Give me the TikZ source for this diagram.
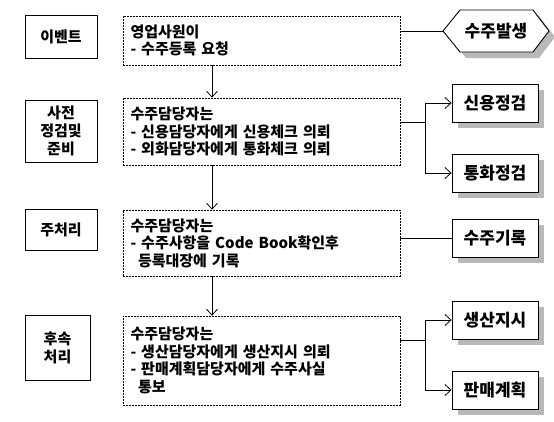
\documentclass[tikz,border=0pt]{standalone}
\usepackage{fontspec}
\setmainfont{Noto Sans CJK KR}
\usetikzlibrary{arrows.meta,shadows,calc}
\begin{document}
\begin{tikzpicture}[x=1pt,y=-1pt,
  leftbox/.style={draw,line width=0.9pt,fill=white,align=center,font=\fontsize{15}{18}\selectfont\bfseries,inner sep=2pt},
  dbox/.style={draw,line width=0.6pt,dash pattern=on 1.6pt off 1.4pt,align=left,text width=262pt,inner xsep=6pt,font=\fontsize{15}{17.5}\selectfont\bfseries,minimum width=277pt},
  rbox/.style={draw,line width=0.9pt,fill=white,minimum width=86pt,minimum height=38pt,font=\fontsize{17}{19}\selectfont\bfseries,
    drop shadow={shadow xshift=6pt,shadow yshift=-6pt,fill=gray!55,opacity=1}},
  arr/.style={-{Straight Barb[length=6pt,width=11pt,line width=0.8pt]},line width=0.8pt},
  ln/.style={line width=0.8pt}]
\useasboundingbox (0,0) rectangle (554,421);
% left boxes
\node[leftbox,minimum width=72pt,minimum height=43pt] (ev) at (61,36.5) {이벤트};
\node[leftbox,minimum width=72pt,minimum height=62pt] (pre) at (61,131) {사전\\정검및\\준비};
\node[leftbox,minimum width=72pt,minimum height=41pt] (main) at (61,229.5) {주처리};
\node[leftbox,minimum width=65pt,minimum height=65pt] (post) at (57.5,347.5) {후속\\처리};
% middle dashed boxes
\node[dbox,minimum height=49pt] (b1) at (261.5,40.5) {영업사원이\\- 수주등록 요청};
\node[dbox,minimum height=67pt] (b2) at (261.5,131.5) {수주담당자는\\- 신용담당자에게 신용체크 의뢰\\- 외화담당자에게 통화체크 의뢰};
\node[dbox,minimum height=66pt] (b3) at (261.5,243) {수주담당자는\\- 수주사항을 Code Book확인후\\\hspace*{0.5em}등록대장에 기록};
\node[dbox,minimum height=89pt] (b4) at (261.5,360.5) {수주담당자는\\- 생산담당자에게 생산지시 의뢰\\- 판매계획담당자에게 수주사실\\\hspace*{0.5em}통보};
% vertical arrows
\coordinate (ax) at (212,0);
\draw[arr] (b1.south -| ax) -- (b2.north -| ax);
\draw[arr] (b2.south -| ax) -- (b3.north -| ax);
\draw[arr] (b3.south -| ax) -- (b4.north -| ax);
% hexagon
\fill[gray!55] (449,37) -- (466,16) -- (539,16) -- (555,37) -- (539,58) -- (466,58) -- cycle;
\draw[line width=0.9pt,fill=white] (443,31) -- (460,10) -- (533,10) -- (549,31) -- (533,52) -- (460,52) -- cycle;
\node[font=\fontsize{17}{19}\selectfont\bfseries] (hx) at (496,31) {수주발생};
\coordinate (hxw) at (443,31);
\draw[ln] (b1.east |- hxw) -- (hxw);
% right boxes
\node[rbox] (sy) at (495,103) {신용정검};
\node[rbox] (th) at (495,173) {통화정검};
\node[rbox] (sj) at (495,238) {수주기록};
\node[rbox] (ss) at (495,320) {생산지시};
\node[rbox] (pm) at (495,390) {판매계획};
% connectors
\coordinate (j2) at (425,122);
\draw[ln] (b2.east |- j2) -- (j2);
\draw[arr] (j2) |- (sy.west);
\draw[arr] (j2) |- (th.west);
\draw[ln] (b3.east |- sj.west) -- (sj.west);
\coordinate (j4) at (425,340);
\draw[ln] (b4.east |- j4) -- (j4);
\draw[arr] (j4) |- (ss.west);
\draw[arr] (j4) |- (pm.west);
\end{tikzpicture}
\end{document}
